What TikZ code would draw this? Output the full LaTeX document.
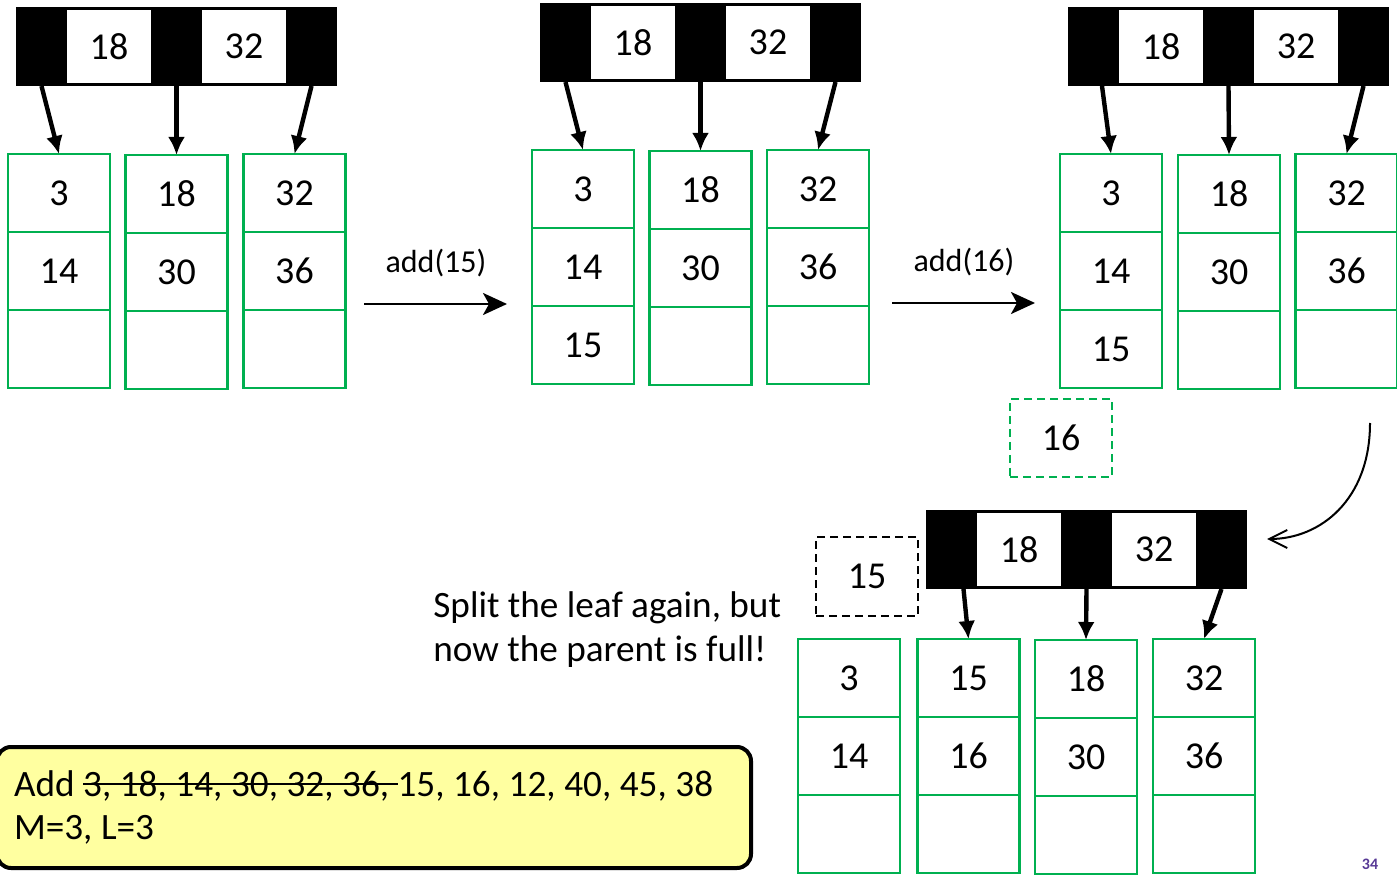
\documentclass[tikz,border=0pt]{standalone}
\usepackage{fontspec}
\setmainfont{Carlito}
\usetikzlibrary{arrows.meta}
\definecolor{leafgreen}{RGB}{0,176,80}
\definecolor{noteyellow}{RGB}{255,255,160}
\definecolor{slidepurple}{RGB}{88,58,150}
\newsavebox\strkbox
\newcommand\strk[1]{\sbox\strkbox{#1}\rlap{\rule[0.3em]{\wd\strkbox}{0.06em}}\usebox\strkbox}

\begin{document}
\begin{tikzpicture}[x=0.5pt,y=-0.5pt,
    every node/.style={font=\fontsize{19}{22}\selectfont},
    cell/.style={draw=leafgreen,line width=1.25pt,minimum width=51pt,minimum height=39pt,inner sep=0pt,outer sep=0pt},
    seg/.style={fill=black,minimum width=25.5pt,minimum height=39.5pt,inner sep=0pt,outer sep=0pt},
    key/.style={fill=white,draw=black,line width=1.5pt,minimum width=43.5pt,minimum height=38pt,inner sep=0pt},
    ptr/.style={line width=2.2pt,-{Latex[length=9pt,width=8.5pt]}},
    addarrow/.style={line width=1.25pt,-{Stealth[length=12pt,width=11pt,inset=3pt]}},
    lbl/.style={font=\fontsize{16}{19}\selectfont},
    newkey/.style={dashed,dash pattern=on 4pt off 2.5pt,line width=1pt,minimum width=51pt,minimum height=39pt,inner sep=0pt}]
    \useasboundingbox (0,0) rectangle (1397,876);

    % internal nodes
    \foreach \nd/\lx/\ty in {ia/16/7, ib/540/3, ic/1068/7, id/926/510} {
        \node[seg] (\nd-0) at (\lx+25.5,\ty+39.5) {};
        \node[seg] (\nd-1) at (\lx+160.5,\ty+39.5) {};
        \node[seg] (\nd-2) at (\lx+295.5,\ty+39.5) {};
        \node[key] (\nd-k1) at (\lx+93,\ty+39.5) {18};
        \node[key] (\nd-k2) at (\lx+228,\ty+39.5) {32};
    }

    % leaves
    \foreach \lf/\cx/\ty/\ka/\kb/\kc in {la/59/154/3/14/{}, lb/176.5/155/18/30/{}, lc/294.5/154/32/36/{},
            ma/583/150/3/14/15, mb/700.5/151/18/30/{}, mc/818/150/32/36/{},
            na/1111/154/3/14/15, nb/1229/155/18/30/{}, nc/1346.5/154/32/36/{},
            pa/849/639/3/14/{}, pb/968.5/639/15/16/{}, pc/1086/640/18/30/{}, pd/1204/639/32/36/{}} {
        \node[cell] (\lf-1) at (\cx,\ty+39) {\ka};
        \node[cell] (\lf-2) at (\cx,\ty+117) {\kb};
        \node[cell] (\lf-3) at (\cx,\ty+195) {\kc};
    }

    % pointers
    \foreach \p/\q in {ia-0/la-1, ia-1/lb-1, ia-2/lc-1, ib-0/ma-1, ib-1/mb-1, ib-2/mc-1,
            ic-1/nb-1, ic-2/nc-1, id-1/pc-1, id-2/pd-1}
        \draw[ptr] (\p.south) -- (\q.north);
    \draw[ptr] ([xshift=4.25pt]ic-0.south) -- (na-1.north);
    \draw[ptr] ([xshift=6pt]id-0.south) -- (pb-1.north);

    % steps
    \coordinate (s15) at (364,304);
    \coordinate (e15) at (507,304);
    \draw[addarrow] (s15) -- (e15);
    \node[lbl] (t15) at (436,263) {add(15)};
    \coordinate (s16) at (892,303);
    \coordinate (e16) at (1035,303);
    \draw[addarrow] (s16) -- (e16);
    \node[lbl] (t16) at (964,262) {add(16)};

    \node[newkey,draw=leafgreen] (k16) at (1061,438) {16};
    \node[newkey,draw=black] (k15) at (867,576.5) {15};

    \coordinate (cs) at (1370,423);
    \coordinate (ce) at (1267,539);
    \draw[line width=1pt,-{Straight Barb[length=9pt,width=9pt]}] (cs) .. controls (1370,500) and (1320,539) .. (ce);

    \node[align=left,anchor=west,inner sep=0pt,font=\fontsize{18.6}{22}\selectfont] (split) at (433,630)
        {Split the leaf again, but\\now the parent is full!};

    \node[draw=black,line width=2pt,rounded corners=7pt,fill=noteyellow,minimum height=60.5pt,
        text width=360pt,inner xsep=8.5pt,align=left,font=\fontsize{18.6}{21.5}\selectfont] (note) at (374,807.5)
        {\spaceskip=0.23em\relax\mbox{Add \strk{3, 18, 14, 30, 32, 36,\ }15, 16, 12, 40, 45, 38}\\M=3, L=3};

    \node[font=\fontsize{8}{9}\selectfont\bfseries,text=slidepurple] (pg) at (1370,864) {34};
\end{tikzpicture}
\end{document}
